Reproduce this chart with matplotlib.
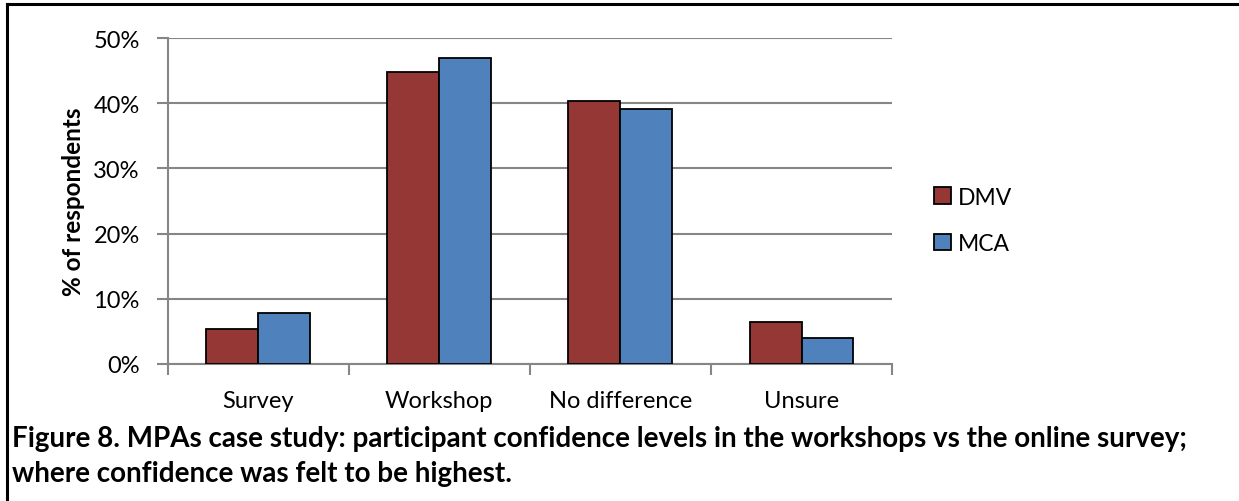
import numpy as np
import matplotlib
matplotlib.use('Agg')
from matplotlib import pyplot as plt
from matplotlib.ticker import FuncFormatter, FixedLocator
from matplotlib.lines import Line2D
from matplotlib.patches import Patch

# data
categories = ['Survey', 'Workshop', 'No difference', 'Unsure']
dmv = [5.4, 44.8, 40.4, 6.4]
mca = [7.8, 47.0, 39.2, 3.9]
series_names = ['DMV', 'MCA']
caption_lines = ['Figure 8. MPAs case study: participant confidence levels in the workshops vs the online survey;',
                 'where confidence was felt to be highest.']

DMV_COLOR = '#953735'
MCA_COLOR = '#4f81bd'
GRID = '#868686'

plt.rcParams['font.family'] = ['Lato', 'DejaVu Sans']

fig = plt.figure(figsize=(12.39, 5.02), dpi=100)
ax = fig.add_axes([0.1352, 0.2735, 0.5848, 0.6482])

x = np.arange(len(categories))
w = 0.287
ax.bar(x - w / 2, dmv, w, color=DMV_COLOR, edgecolor='black', linewidth=1.3, zorder=3)
ax.bar(x + w / 2, mca, w, color=MCA_COLOR, edgecolor='black', linewidth=1.3, zorder=3)

ax.set_xlim(-0.5, len(categories) - 0.5)
ax.set_ylim(0, 50)
ax.set_yticks(np.arange(0, 51, 10))
ax.yaxis.set_major_formatter(FuncFormatter(lambda v, p: '%d%%' % v))
ax.yaxis.grid(True, color=GRID, linewidth=1.5, zorder=0)

# category labels centred, ticks on category boundaries
ax.set_xticks(x)
ax.set_xticklabels(categories)
ax.tick_params(axis='x', length=0, pad=19, labelsize=17)
ax.xaxis.set_minor_locator(FixedLocator(np.arange(-0.5, len(categories), 1.0)))
ax.tick_params(axis='x', which='minor', length=8, width=1.5, color=GRID)
ax.tick_params(axis='y', length=8, width=1.5, color=GRID, labelsize=17, pad=12)

for s in ['top', 'right']:
    ax.spines[s].set_visible(False)
for s in ['left', 'bottom']:
    ax.spines[s].set_color(GRID)
    ax.spines[s].set_linewidth(1.5)

ax.set_ylabel('% of respondents', fontsize=17.5, fontweight='bold')
ax.yaxis.set_label_coords(-0.114, 0.5)

handles = [Patch(facecolor=DMV_COLOR, edgecolor='black', linewidth=1.3),
           Patch(facecolor=MCA_COLOR, edgecolor='black', linewidth=1.3)]
fig.legend(handles, series_names, loc='upper left', bbox_to_anchor=(0.754, 0.626),
           frameon=False, fontsize=16.5, handlelength=0.75, handleheight=0.75,
           handletextpad=0.3, labelspacing=1.1, borderaxespad=0, borderpad=0)

fig.text(0.0097, 1 - 447 / 502, caption_lines[0], fontsize=20, fontweight='bold',
         va='baseline', ha='left')
fig.text(0.0097, 1 - 482 / 502, caption_lines[1], fontsize=20, fontweight='bold',
         va='baseline', ha='left')

# document frame (left and top edges)
fig.add_artist(Line2D([0.0056, 0.0056], [0, 0.99], color='black', linewidth=2.2,
                      transform=fig.transFigure))
fig.add_artist(Line2D([0.0056, 1.0], [0.99, 0.99], color='black', linewidth=2.2,
                      transform=fig.transFigure))

fig.savefig('out.png', dpi=100)
